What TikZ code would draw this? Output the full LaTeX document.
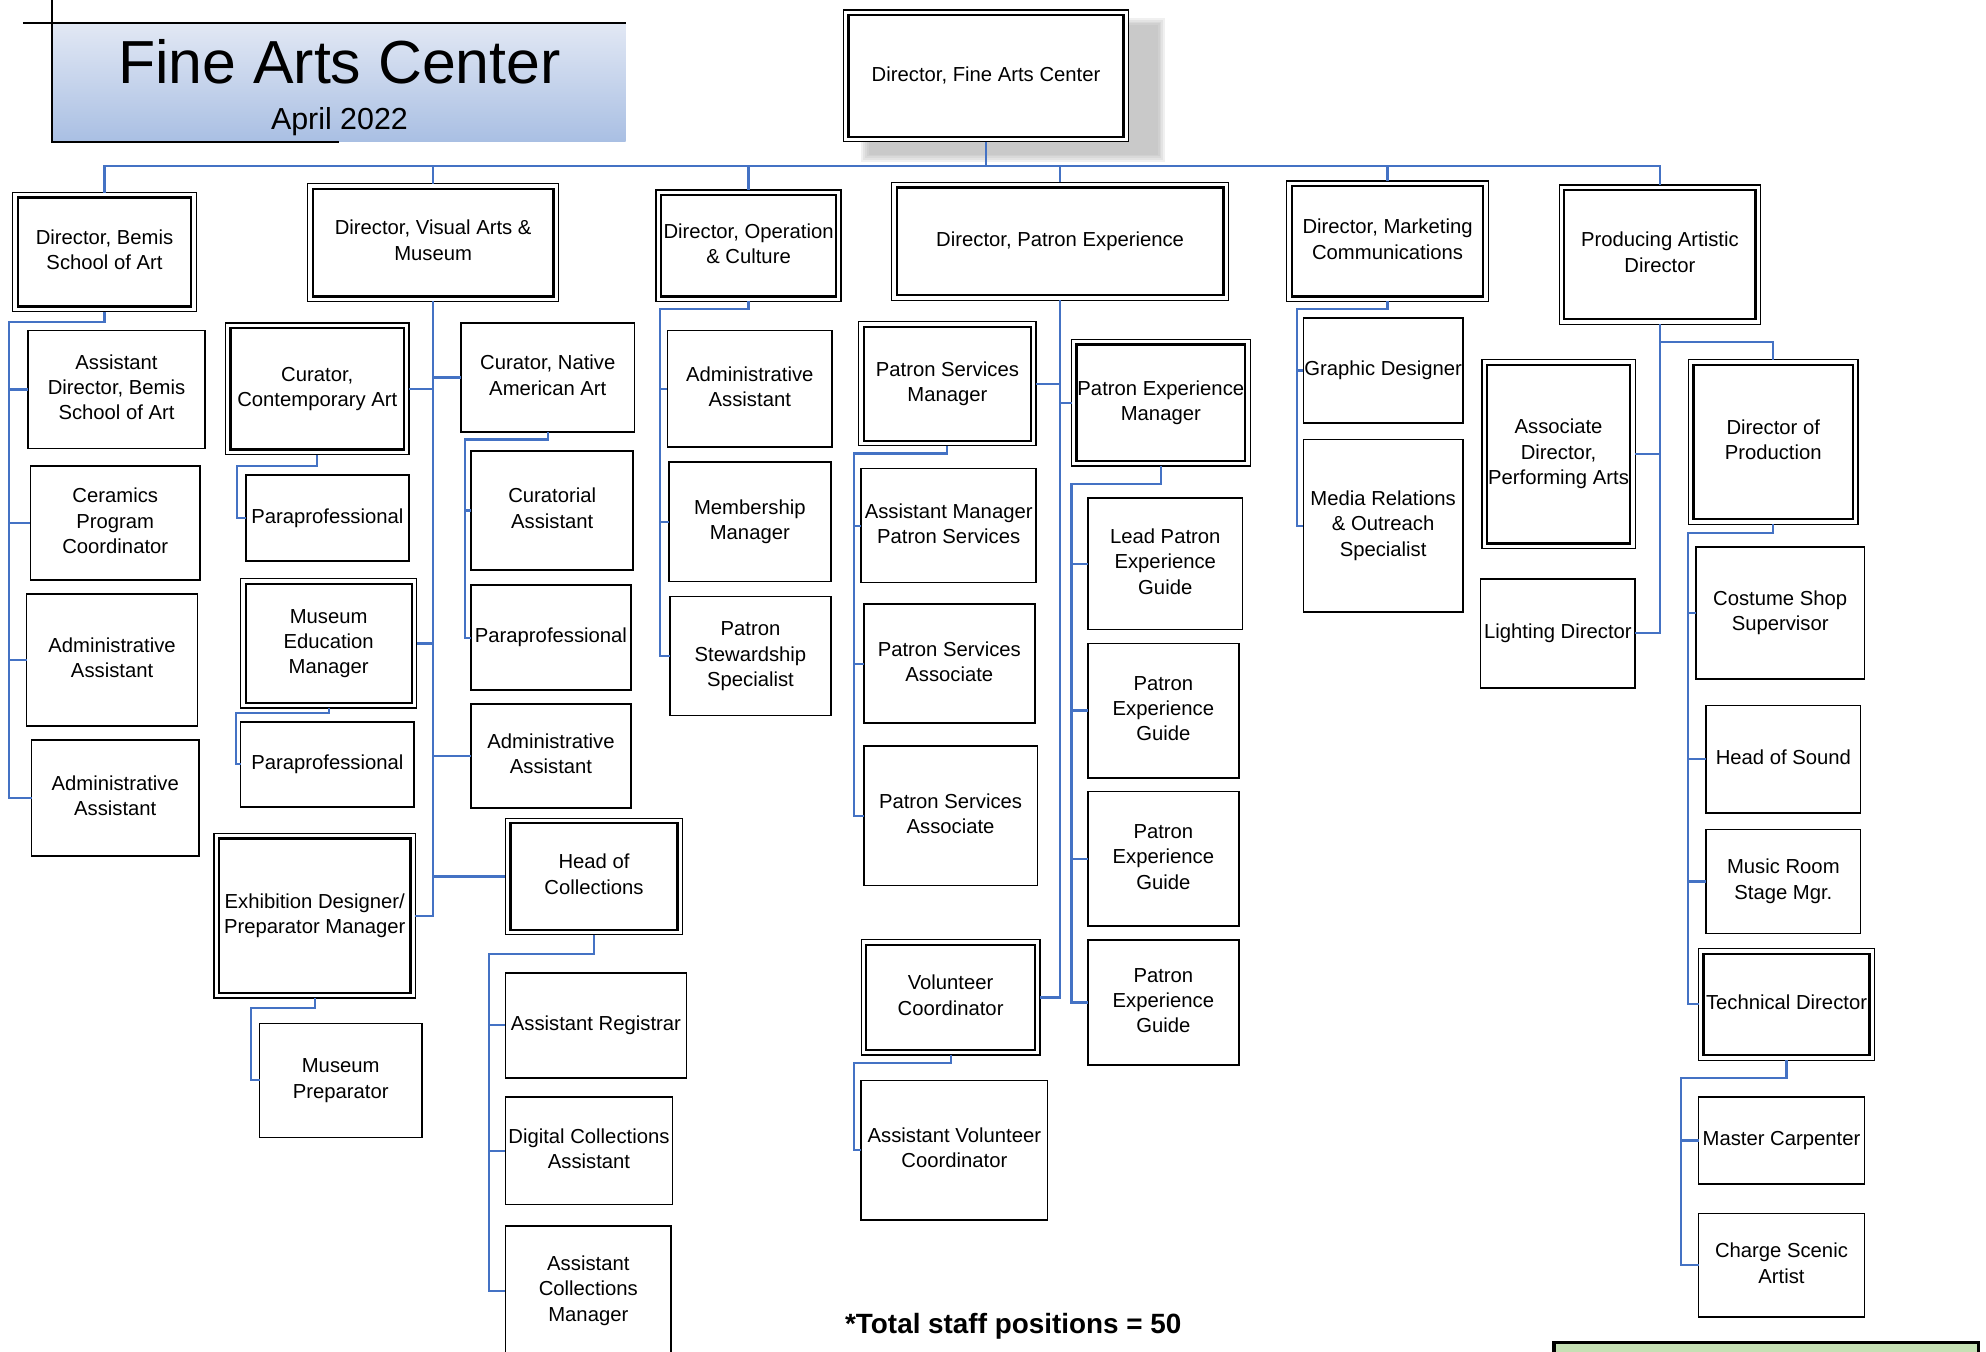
\documentclass[tikz,border=0pt]{standalone}
\usepackage{fontspec}
\setmainfont{Liberation Sans}
\usetikzlibrary{calc}
\definecolor{connc}{HTML}{4472C4}
\definecolor{shadowc}{HTML}{A8A8A8}
\definecolor{titletop}{HTML}{E2E8F4}
\definecolor{titlebot}{HTML}{A9BFE3}
\definecolor{greenbox}{HTML}{C5E0B4}
\newcommand\tx[1]{\raisebox{-3.5pt}{\makebox[0pt]{\begin{tabular}{@{}c@{}}#1\end{tabular}}}}
\newcommand\bx[6]{\node[sbox,minimum width={#4-#2},minimum height={#5-#3}] (#1) at ({(#2+#4)/2},{(#3+#5)/2}) {\tx{#6}};}
\newcommand\dbx[6]{\node[dout,minimum width={#4-#2},minimum height={#5-#3}] (#1) at ({(#2+#4)/2},{(#3+#5)/2}) {};
 \node[din,minimum width={#4-#2-8},minimum height={#5-#3-8}] (#1-in) at (#1.center) {\tx{#6}};}
\tikzset{
 sbox/.style={draw=black,line width=1.3pt,fill=white,inner sep=0pt,outer sep=0pt,rectangle,font=\fontsize{16}{20}\selectfont},
 dout/.style={draw=black,line width=1pt,fill=white,inner sep=0pt,outer sep=0pt,rectangle},
 din/.style={draw=black,line width=1.8pt,inner sep=0pt,outer sep=0pt,rectangle,font=\fontsize{16}{20}\selectfont},
 conn/.style={draw=connc,line width=1.7pt},
 frame/.style={draw=black,line width=1.4pt},
}
\begin{document}
\begin{tikzpicture}[x=1pt,y=-1pt]
\clip (0,0) rectangle (1568,1067);
\fill[white] (0,0) rectangle (1568,1067);
% title
\shade[top color=titletop,bottom color=titlebot] (41,18) rectangle (494,112);
\draw[frame] (18,18) -- (494,18);
\draw[frame] (41,0) -- (41,112) -- (268,112);
\node[font=\fontsize{48}{56}\selectfont,inner sep=0pt] (title) at (268,49) {Fine Arts Center};
\node[font=\fontsize{24}{28}\selectfont,inner sep=0pt] (date) at (268,96) {April 2022};
% top box with soft shadow
\foreach \e in {0,1.5,3,4.5,6}
  \fill[shadowc,opacity=0.17] ({680+\e},{14+\e}) rectangle ({920-\e},{128-\e});
\dbx{dfac}{666}{8}{891}{112}{Director, Fine Arts Center}
% level 1
\dbx{bemis}{10}{152}{155}{246}{Director, Bemis\\School of Art}
\dbx{visual}{243}{145}{441}{238}{Director, Visual Arts \&\\Museum}
\dbx{oper}{518}{150}{664}{238}{Director, Operation\\\& Culture}
\dbx{patron}{704}{144}{970}{237}{Director, Patron Experience}
\dbx{mkt}{1016}{143}{1175}{238}{Director, Marketing\\Communications}
\dbx{pad}{1231}{146}{1390}{256}{Producing Artistic\\Director}
% Bemis
\bx{bad}{22}{261}{162}{354}{Assistant\\Director, Bemis\\School of Art}
\bx{bcer}{24}{368}{158}{458}{Ceramics\\Program\\Coordinator}
\bx{baa1}{21}{469}{156}{573}{Administrative\\Assistant}
\bx{baa2}{25}{584}{157}{676}{Administrative\\Assistant}
% Visual arts
\dbx{vcca}{178}{255}{323}{359}{Curator,\\Contemporary Art}
\bx{vpp1}{194}{375}{323}{443}{Paraprofessional}
\dbx{vmem}{190}{457}{329}{559}{Museum\\Education\\Manager}
\bx{vpp2}{190}{570}{327}{637}{Paraprofessional}
\dbx{vedp}{169}{658}{328}{788}{Exhibition Designer/\\Preparator Manager}
\bx{vmp}{205}{808}{333}{898}{Museum\\Preparator}
\bx{vcna}{364}{255}{501}{341}{Curator, Native\\American Art}
\bx{vca}{372}{356}{500}{450}{Curatorial\\Assistant}
\bx{vpp3}{372}{462}{498}{545}{Paraprofessional}
\bx{vaa}{372}{556}{498}{638}{Administrative\\Assistant}
\dbx{vhoc}{399}{646}{539}{738}{Head of\\Collections}
\bx{var}{399}{768}{542}{851}{Assistant Registrar}
\bx{vdca}{399}{866}{531}{951}{Digital Collections\\Assistant}
\bx{vacm}{399}{968}{530}{1070}{Assistant\\Collections\\Manager}
% Operations
\bx{oaa}{527}{261}{657}{353}{Administrative\\Assistant}
\bx{omm}{528}{365}{656}{459}{Membership\\Manager}
\bx{opss}{529}{471}{656}{565}{Patron\\Stewardship\\Specialist}
% Patron experience
\dbx{psm}{678}{254}{818}{352}{Patron Services\\Manager}
\bx{amps}{680}{370}{818}{460}{Assistant Manager\\Patron Services}
\bx{psa1}{682}{477}{817}{571}{Patron Services\\Associate}
\bx{psa2}{682}{589}{819}{699}{Patron Services\\Associate}
\dbx{pem}{846}{268}{987}{368}{Patron Experience\\Manager}
\bx{lpeg}{859}{393}{981}{497}{Lead Patron\\Experience\\Guide}
\bx{peg1}{859}{508}{978}{614}{Patron\\Experience\\Guide}
\bx{peg2}{859}{625}{978}{731}{Patron\\Experience\\Guide}
\bx{peg3}{859}{742}{978}{841}{Patron\\Experience\\Guide}
\dbx{vc}{680}{742}{821}{833}{Volunteer\\Coordinator}
\bx{avc}{680}{853}{827}{963}{Assistant Volunteer\\Coordinator}
% Marketing
\bx{gd}{1029}{251}{1155}{334}{Graphic Designer}
\bx{mro}{1029}{347}{1155}{483}{Media Relations\\\& Outreach\\Specialist}
% Producing artistic director
\dbx{adpa}{1170}{284}{1291}{433}{Associate\\Director,\\Performing Arts}
\bx{ld}{1169}{457}{1291}{543}{Lighting Director}
\dbx{dop}{1333}{284}{1467}{414}{Director of\\Production}
\bx{css}{1339}{432}{1472}{536}{Costume Shop\\Supervisor}
\bx{hos}{1347}{557}{1469}{642}{Head of Sound}
\bx{mrsm}{1347}{655}{1469}{737}{Music Room\\Stage Mgr.}
\dbx{td}{1341}{749}{1480}{837}{Technical Director}
\bx{mc}{1341}{866}{1472}{935}{Master Carpenter}
\bx{csa}{1341}{958}{1472}{1040}{Charge Scenic\\Artist}
% footer
\node[font=\bfseries\fontsize{22}{26}\selectfont,inner sep=0pt] (total) at (800,1047) {*Total staff positions = 50};
\draw[draw=black,line width=3pt,fill=greenbox] (1227,1060) rectangle (1562,1090);
% connectors: bus
\coordinate (bus) at (0,131);
\draw[conn] (dfac.south) -- (dfac.south |- bus);
\draw[conn] (bemis.north) -- (bemis.north |- bus) -- (pad.north |- bus) -- (pad.north);
\foreach \n in {visual,oper,patron,mkt} \draw[conn] (\n.north) -- (\n.north |- bus);
% Bemis
\coordinate (bemisR) at (7,254);
\draw[conn] (bemis.south) |- (bemisR) |- (baa2.west);
\foreach \n in {bad,bcer,baa1} \draw[conn] (bemisR |- \n.west) -- (\n.west);
% Visual trunk
\draw[conn] (visual.south) -- (visual.south |- vedp.east) -- (vedp.east);
\foreach \n in {vcca,vmem} \draw[conn] (\n.east) -- (visual.south |- \n.east);
\foreach \n in {vcna,vaa,vhoc} \draw[conn] (visual.south |- \n.west) -- (\n.west);
\coordinate (ccaR) at (187,368);
\draw[conn] (vcca.south) |- (ccaR) |- (vpp1.west);
\coordinate (memR) at (186,563);
\draw[conn] (vmem.south) |- (memR) |- (vpp2.west);
\coordinate (edpR) at (198,796);
\draw[conn] (vedp.south) |- (edpR) |- (vmp.west);
\coordinate (cnaR) at (367,347);
\draw[conn] (vcna.south) |- (cnaR) |- (vpp3.west);
\draw[conn] (cnaR |- vca.west) -- (vca.west);
\coordinate (hocR) at (386,753);
\draw[conn] (vhoc.south) |- (hocR) |- (vacm.west);
\foreach \n in {var,vdca} \draw[conn] (hocR |- \n.west) -- (\n.west);
% Operations
\coordinate (opR) at (521,244);
\draw[conn] (oper.south) |- (opR) |- (opss.west);
\foreach \n in {oaa,omm} \draw[conn] (opR |- \n.west) -- (\n.west);
% Patron experience
\draw[conn] (patron.south) -- (patron.south |- vc.east) -- (vc.east);
\draw[conn] (psm.east) -- (patron.south |- psm.east);
\draw[conn] (patron.south |- pem.west) -- (pem.west);
\coordinate (psmR) at (674,358);
\draw[conn] (psm.south) |- (psmR) |- (psa2.west);
\foreach \n in {amps,psa1} \draw[conn] (psmR |- \n.west) -- (\n.west);
\coordinate (pemR) at (846,382);
\draw[conn] (pem.south) |- (pemR) |- (peg3.west);
\foreach \n in {lpeg,peg1,peg2} \draw[conn] (pemR |- \n.west) -- (\n.west);
\coordinate (vcR) at (674,839);
\draw[conn] (vc.south) |- (vcR) |- (avc.west);
% Marketing
\coordinate (mktR) at (1024,244);
\draw[conn] (mkt.south) |- (mktR) |- (mro.west);
\draw[conn] (mktR |- gd.west) -- (gd.west);
% PAD
\draw[conn] (pad.south) -- (pad.south |- ld.east) -- (ld.east);
\draw[conn] (adpa.east) -- (pad.south |- adpa.east);
\coordinate (padJ) at (1310,270);
\draw[conn] (padJ) -| (dop.north);
\coordinate (dopR) at (1333,421);
\draw[conn] (dop.south) |- (dopR) |- (td.west);
\foreach \n in {css,hos,mrsm} \draw[conn] (dopR |- \n.west) -- (\n.west);
\coordinate (tdR) at (1327,851);
\draw[conn] (td.south) |- (tdR) |- (csa.west);
\draw[conn] (tdR |- mc.west) -- (mc.west);
\end{tikzpicture}
\end{document}
